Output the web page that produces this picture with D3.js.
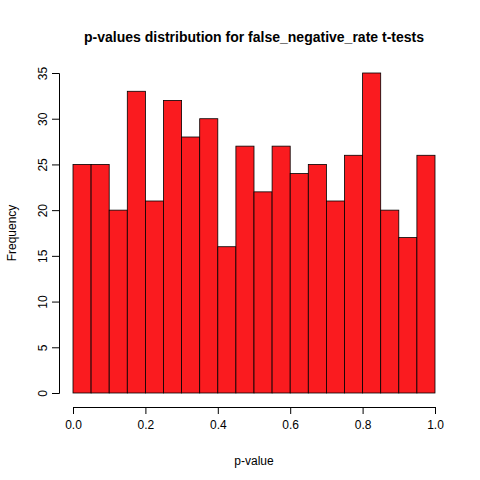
<!DOCTYPE html>
<html><head><meta charset="utf-8">
<script src="https://cdn.jsdelivr.net/npm/d3@7"></script>
<style>body{margin:0;background:#fff}text{font-family:"Liberation Sans",Arial,sans-serif}</style>
</head><body>
<svg id="chart" width="480" height="480"></svg>
<script>
var binStarts = d3.range(20).map(function(i) { return i * 0.05; });
var counts = [25, 25, 20, 33, 21, 32, 28, 30, 16, 27, 22, 27, 24, 25, 21, 26, 35, 20, 17, 26];
var xTicks = [0, 0.2, 0.4, 0.6, 0.8, 1.0];
var yTicks = [0, 5, 10, 15, 20, 25, 30, 35];

var svg = d3.select("#chart");
var x = d3.scaleLinear().domain([0, 1]).range([73, 435]);
var y = d3.scaleLinear().domain([0, 35]).range([393, 73]);

svg.selectAll("rect.bar")
  .data(counts)
  .enter().append("rect")
  .attr("class", "bar")
  .attr("x", function(d, i) { return x(binStarts[i]); })
  .attr("y", function(d) { return y(d); })
  .attr("width", function(d, i) { return x(binStarts[i] + 0.05) - x(binStarts[i]); })
  .attr("height", function(d) { return y(0) - y(d); })
  .attr("fill", "#fa1b1f")
  .attr("stroke", "#000")
  .attr("stroke-width", 0.8);

var xa = svg.append("g")
  .attr("transform", "translate(0,407)")
  .call(d3.axisBottom(x).tickValues(xTicks).tickFormat(d3.format(".1f")).tickSize(7).tickPadding(6));
var ya = svg.append("g")
  .attr("transform", "translate(59,0)")
  .call(d3.axisLeft(y).tickValues(yTicks).tickSize(7).tickPadding(6));
ya.selectAll(".tick text")
  .attr("transform", function() { return "rotate(-90)"; })
  .attr("x", 0).attr("y", -16).attr("dy", "0.35em")
  .style("text-anchor", "middle");
[xa, ya].forEach(function(a) {
  a.selectAll("text").attr("font-size", 12).attr("fill", "#000")
    .style("font-family", "'Liberation Sans',Arial,sans-serif");
  a.select(".domain").attr("stroke", "#000");
  a.selectAll(".tick line").attr("stroke", "#000");
});

svg.append("text").attr("x", 254).attr("y", 42).attr("text-anchor", "middle")
  .attr("font-size", 14).attr("font-weight", "bold").text("p-values distribution for false_negative_rate t-tests");
svg.append("text").attr("x", 254).attr("y", 465).attr("text-anchor", "middle")
  .attr("font-size", 12).text("p-value");
svg.append("text").attr("transform", "translate(16,233) rotate(-90)").attr("text-anchor", "middle")
  .attr("font-size", 12).text("Frequency");
</script>
</body></html>
